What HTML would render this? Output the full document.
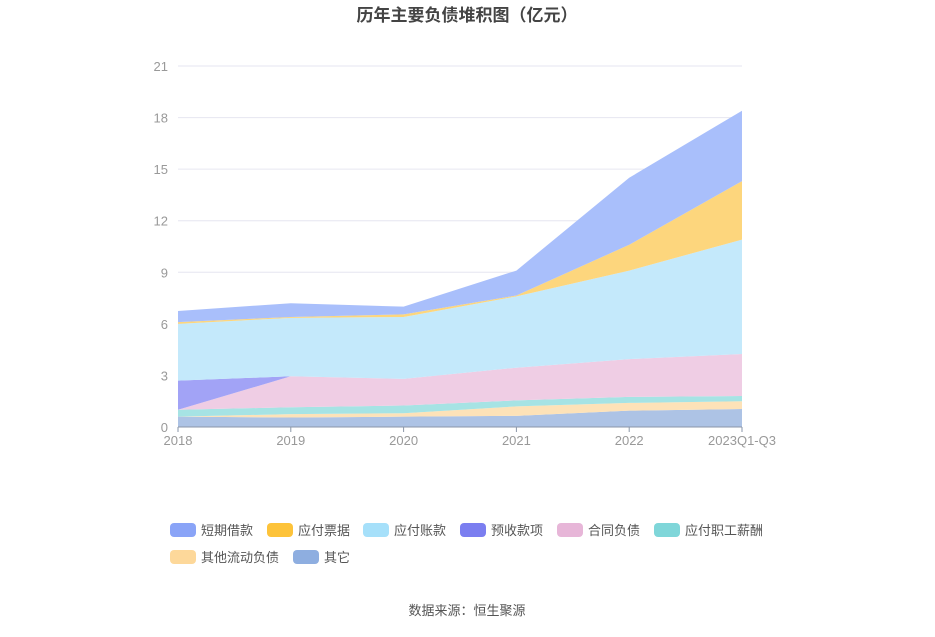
<!DOCTYPE html>
<html><head><meta charset="utf-8"><style>
body{margin:0;background:#fff;font-family:"Liberation Sans","Noto Sans CJK SC",sans-serif}
</style></head><body>
<svg id="c" width="935" height="632" xmlns="http://www.w3.org/2000/svg">
<text x="467" y="21" text-anchor="middle" font-size="17" font-weight="bold" fill="#444" font-family="Liberation Sans,Noto Sans CJK SC,sans-serif">历年主要负债堆积图（亿元）</text>
<g id="grid"></g><g id="areas"></g><g id="axes"></g><g id="legend"></g>
<text x="467" y="615" text-anchor="middle" font-size="13" fill="#555" font-family="Liberation Sans,Noto Sans CJK SC,sans-serif">数据来源：恒生聚源</text>
</svg>
<script>
const categories=["2018","2019","2020","2021","2022","2023Q1-Q3"];
const seriesNames=["其它","其他流动负债","应付职工薪酬","合同负债","预收款项","应付账款","应付票据","短期借款"];
const other=[0.6,0.55,0.6,0.65,0.95,1.05];
const otherCurrent=[0.0,0.2,0.2,0.55,0.45,0.45];
const payroll=[0.4,0.4,0.45,0.35,0.35,0.3];
const contract=[0,1.8,1.55,1.9,2.2,2.45];
const advance=[1.7,0,0,0,0,0];
const payables=[3.3,3.4,3.6,4.15,5.15,6.65];
const notes=[0.1,0.05,0.15,0.05,1.5,3.4];
const shortLoans=[0.65,0.8,0.45,1.45,3.9,4.1];
const yTicks=[0,3,6,9,12,15,18,21];
const colors=["#8eaee0","#fdd89a","#7fd6d9","#e7b6d8","#7b7ef0","#a6e0fa","#fdc33a","#8aa4f7"];
const fills=["#adc3e5","#fde2b8","#a6e3e4","#efcde4","#a2a3f6","#c4e9fb","#fdd67d","#a9bffb"];
const NS="http://www.w3.org/2000/svg";
const X0=178,X1=742,Y0=427,Y1=66,YMAX=21;
const xs=i=>X0+(X1-X0)*i/(categories.length-1);
const ys=v=>Y0-(Y0-Y1)*v/YMAX;
function mk(t,a,p){const e=document.createElementNS(NS,t);for(const k in a)e.setAttribute(k,a[k]);p.appendChild(e);return e;}
const grid=document.getElementById('grid'),axes=document.getElementById('axes'),areas=document.getElementById('areas'),legend=document.getElementById('legend');
yTicks.forEach(t=>{
 if(t>0){const l=mk('line',{x1:X0,x2:X1,y1:ys(t),y2:ys(t),stroke:'#e6e6f0'},grid);
 
 }
 const tx=mk('text',{x:168,y:ys(t)+5,'text-anchor':'end','font-size':13,fill:'#999'},axes);tx.textContent=t;
 
 
});
const data=[other,otherCurrent,payroll,contract,advance,payables,notes,shortLoans];
let base=categories.map(()=>0);
data.forEach((s,k)=>{
 const top=base.map((b,i)=>b+s[i]);
 let d='M'+top.map((v,i)=>xs(i)+','+ys(v)).join(' L');
 for(let i=base.length-1;i>=0;i--)d+=' L'+xs(i)+','+ys(base[i]);
 const p=mk('path',{d:d+'Z',fill:fills[k],stroke:'none'},areas);
 
 
 base=top;
});
const ax=mk('line',{x1:X0,x2:X1,y1:Y0,y2:Y0,stroke:'#8a96a8'},axes);


categories.forEach((c,i)=>{
 mk('line',{x1:xs(i),x2:xs(i),y1:Y0,y2:Y0+5,stroke:'#8a96a8'},axes);
 const tx=mk('text',{x:xs(i)+(i==categories.length-1?0:0),y:Y0+18,'text-anchor':'middle','font-size':13,fill:'#999'},axes);tx.textContent=c;
 
 
});
const legOrder=[7,6,5,4,3,2,1,0];
const legX=[170,267,363,460,557,654,170,293];
legOrder.forEach((k,j)=>{
 const x=legX[j],y=j<6?530:557;
 const g=mk('g',{},legend);
 
 
 mk('rect',{x:x,y:y-7,width:26,height:14,rx:4,fill:colors[k]},g);
 const t=mk('text',{x:x+31,y:y+5,'font-size':13,fill:'#555'},g);t.textContent=seriesNames[k];
});
</script>
</body></html>
